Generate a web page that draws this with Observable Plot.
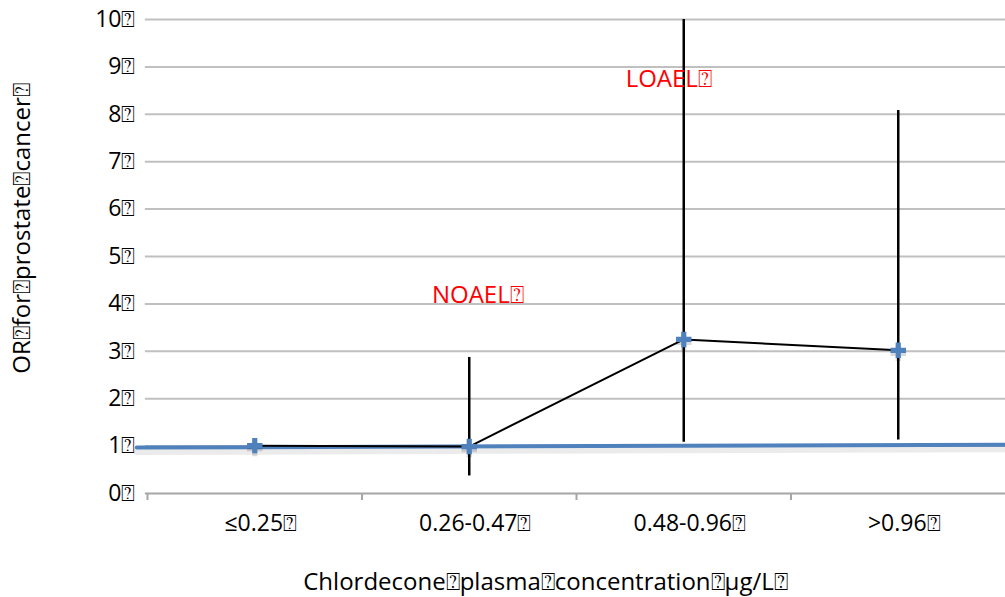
<!DOCTYPE html>
<html><head><meta charset="utf-8">
<script src="https://cdn.jsdelivr.net/npm/d3@7"></script>
<script src="https://cdn.jsdelivr.net/npm/@observablehq/plot@0.6"></script>
<style>body{margin:0;background:#fff}svg{display:block}</style>
</head><body><div id="chart"></div>
<script>
const B = "\u2370";
const categories = ["≤0.25", "0.26-0.47", "0.48-0.96", ">0.96"];
const orValues = [1.01, 0.99, 3.25, 3.02];
const ciLow = [1.01, 0.37, 1.08, 1.13];
const ciHigh = [1.01, 2.87, 10, 8.08];
const refLineX = [-0.05, 4];
const refLineY = [0.97, 1.03];
const yTicks = [0,1,2,3,4,5,6,7,8,9,10];
const xBoundaries = [0,1,2,3];
const annotations = [
  {label: "NOAEL", x: 1.54, y: 4.18},
  {label: "LOAEL", x: 2.43, y: 8.73}
];
const xTitle = "Chlordecone" + B + "plasma" + B + "concentration" + B + "µg/L" + B;
const yTitle = "OR" + B + "for" + B + "prostate" + B + "cancer" + B;

const pts = categories.map((c, i) => ({c, x: i + 0.5, y: orValues[i], lo: ciLow[i], hi: ciHigh[i]}));
const ref = refLineX.map((x, i) => ({x, y: refLineY[i]}));
const font = "'Open Sans', sans-serif";

const plot = Plot.plot({
  width: 1005, height: 597,
  marginLeft: 147, marginRight: 0, marginTop: 19, marginBottom: 104,
  style: {fontFamily: font, fontSize: "22px", color: "#000", background: "#fff"},
  x: {domain: [0, 4]},
  y: {domain: [0, 10]},
  marks: [
    Plot.ruleY(yTicks.filter(d => d > 0), {stroke: "#c0c0c0", strokeWidth: 2, x1: -0.01, x2: 4}),
    Plot.ruleY([0], {stroke: "#a6a6a6", strokeWidth: 2, x1: -0.01, x2: 4}),
    Plot.axisX({ticks: xBoundaries, tickSize: 7, tickFormat: () => "", stroke: "#a6a6a6", strokeWidth: 2, label: null}),
    Plot.axisY({ticks: yTicks, tickSize: 0, tickPadding: 12, tickFormat: d => d + B, label: null, fontSize: 23}),
    Plot.axisX({ticks: pts.map(d => d.x), tickSize: 0, tickPadding: 21, dx: 6, tickFormat: (d, i) => categories[i] + B, label: null, fontSize: 23}),
    Plot.line(ref, {x: "x", y: "y", stroke: "#000", strokeOpacity: 0.08, strokeWidth: 7, dy: 4}),
    Plot.line(ref, {x: "x", y: "y", stroke: "#4F81BD", strokeWidth: 4}),
    Plot.line(pts, {x: "x", y: "y", stroke: "#000", strokeWidth: 2}),
    Plot.ruleX(pts.filter(d => d.hi > d.lo), {x: "x", y1: "lo", y2: "hi", stroke: "#000", strokeWidth: 2.5}),
    Plot.dot(pts, {x: "x", y: "y", symbol: "cross", r: 6.5, fill: "#000", fillOpacity: 0.15, dy: 3}),
    Plot.dot(pts, {x: "x", y: "y", symbol: "cross", r: 6.5, fill: "#4F81BD"}),
    Plot.text(annotations, {x: "x", y: "y", text: d => d.label + B, fill: "#ff0000", fontSize: 24}),
    Plot.text([xTitle], {frameAnchor: "bottom", dx: -31, dy: 96, fontSize: 24, text: d => d}),
    Plot.text([yTitle], {frameAnchor: "left", textAnchor: "middle", dx: -125, dy: -28, rotate: -90, fontSize: 24, text: d => d})
  ]
});
document.getElementById("chart").append(plot);
</script></body></html>
